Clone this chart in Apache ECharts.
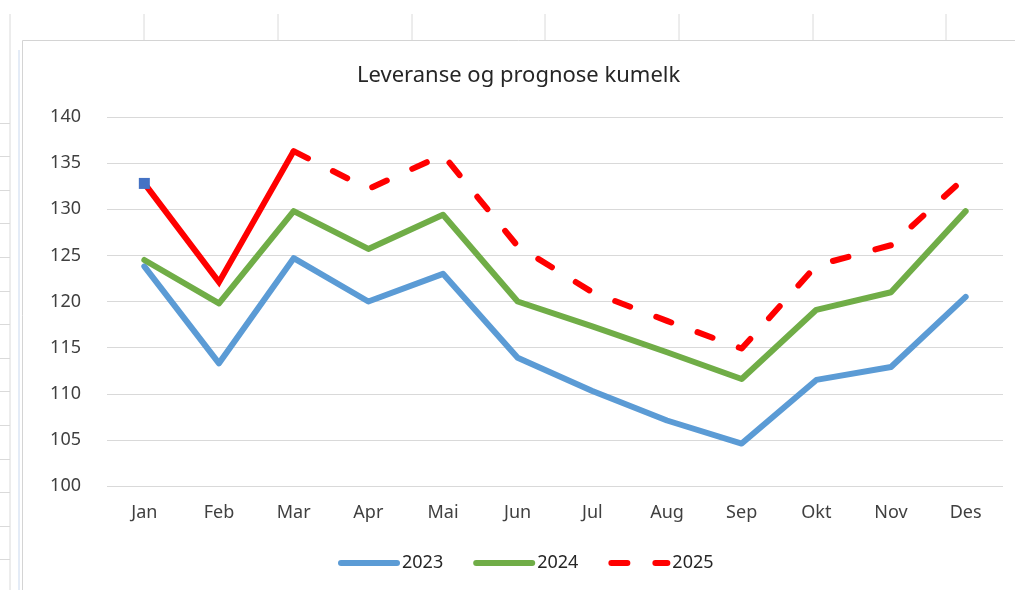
<!DOCTYPE html>
<html>
<head>
    <meta charset="utf-8">
    <title>Leveranse og prognose kumelk</title>
    <script src="https://cdn.jsdelivr.net/npm/echarts@6/dist/echarts.min.js"></script>
    <style>
        html, body { margin: 0; padding: 0; background: #fff; }
    </style>
</head>
<body>
<div id="main" style="width: 1015px;height:590px;"></div>
<script type="text/javascript">
    // data
    const months = ['Jan', 'Feb', 'Mar', 'Apr', 'Mai', 'Jun', 'Jul', 'Aug', 'Sep', 'Okt', 'Nov', 'Des'];
    const v2023 = [123.8, 113.3, 124.7, 120.0, 123.0, 113.9, 110.3, 107.1, 104.6, 111.5, 112.9, 120.5];
    const v2024 = [124.5, 119.8, 129.8, 125.7, 129.4, 120.0, 117.3, 114.5, 111.6, 119.1, 121.0, 129.8];
    const v2025 = [132.8, 122.1, 136.3, 132.2, 135.9, 126.0, 121.0, 117.9, 114.9, 123.9, 126.1, 133.5];
    const actualMonths = 3; // Jan-Mar levert, resten prognose
    const yTicks = [100, 105, 110, 115, 120, 125, 130, 135, 140];

    // 2025 delt i levert (heltrukken) og prognose (stiplet)
    const levert = v2025.map((v, i) => i < actualMonths ? v : null);
    levert[0] = {
        value: v2025[0],
        symbol: 'rect',
        symbolSize: 11,
        itemStyle: {color: '#4472C4'}
    };
    const prognose = v2025.map((v, i) => i >= actualMonths - 1 ? v : null);

    const myChart = echarts.init(document.getElementById('main'));

    // bakgrunn: regnearkrutenett og diagramramme
    const bg = [];
    [144, 278, 412, 545, 679, 813, 946].forEach(function (x) {
        bg.push({type: 'line', shape: {x1: x, y1: 14, x2: x, y2: 40}, style: {stroke: '#dadada', lineWidth: 1}, silent: true});
    });
    bg.push({type: 'line', shape: {x1: 10, y1: 14, x2: 10, y2: 590}, style: {stroke: '#dadada', lineWidth: 1}, silent: true});
    for (let y = 122.5; y < 590; y += 33.6) {
        bg.push({type: 'line', shape: {x1: 0, y1: Math.round(y) + 0.5, x2: 10, y2: Math.round(y) + 0.5}, style: {stroke: '#dadada', lineWidth: 1}, silent: true});
    }
    bg.push({type: 'line', shape: {x1: 19, y1: 50, x2: 19, y2: 590}, style: {stroke: '#c9d8ee', lineWidth: 1}, silent: true});
    bg.push({type: 'polyline', shape: {points: [[22.5, 590], [22.5, 40.5], [1015, 40.5]]}, style: {stroke: '#d4d4d4', lineWidth: 1, fill: null}, silent: true});

    const font = "'Noto Sans', sans-serif";

    const option = {
        backgroundColor: '#fff',
        animation: false,
        graphic: bg,
        title: {
            text: 'Leveranse og prognose kumelk',
            left: 352,
            top: 60,
            textStyle: {
                fontFamily: font,
                fontSize: 22,
                fontWeight: 'normal',
                color: '#262626'
            }
        },
        legend: {
            bottom: 13,
            left: 333,
            itemWidth: 56,
            itemHeight: 12,
            itemGap: 30,
            data: ['2023', '2024', '2025'],
            itemStyle: {opacity: 0},
            lineStyle: {width: 6, cap: 'round'},
            textStyle: {fontFamily: font, fontSize: 18, color: '#262626'}
        },
        grid: {
            left: 107,
            right: 12,
            top: 117,
            bottom: 104
        },
        xAxis: {
            type: 'category',
            data: months,
            boundaryGap: true,
            axisLine: {show: false},
            axisTick: {show: false},
            axisLabel: {fontFamily: font, fontSize: 18, color: '#404040', margin: 18}
        },
        yAxis: {
            type: 'value',
            min: yTicks[0],
            max: yTicks[yTicks.length - 1],
            interval: 5,
            axisLine: {show: false},
            axisTick: {show: false},
            axisLabel: {fontFamily: font, fontSize: 18, color: '#404040', margin: 26},
            splitLine: {lineStyle: {color: '#d9d9d9', width: 1}}
        },
        series: [
            {
                name: '2023',
                type: 'line',
                data: v2023,
                symbol: 'none',
                color: '#5B9BD5',
                lineStyle: {width: 6, color: '#5B9BD5', join: 'round', cap: 'round'}
            },
            {
                name: '2024',
                type: 'line',
                data: v2024,
                symbol: 'none',
                color: '#70AD47',
                lineStyle: {width: 6, color: '#70AD47', join: 'round', cap: 'round'}
            },
            {
                name: '2025 levert',
                type: 'line',
                data: levert,
                symbol: 'none',
                showSymbol: true,
                connectNulls: false,
                color: '#FF0000',
                lineStyle: {width: 6, color: '#FF0000', join: 'miter', cap: 'butt'},
                z: 3
            },
            {
                name: '2025',
                type: 'line',
                data: prognose,
                symbol: 'none',
                color: '#FF0000',
                lineStyle: {width: 6, color: '#FF0000', type: [16, 28], cap: 'round', join: 'round'},
                z: 2
            }
        ]
    };
    myChart.setOption(option);
</script>
</body>
</html>
